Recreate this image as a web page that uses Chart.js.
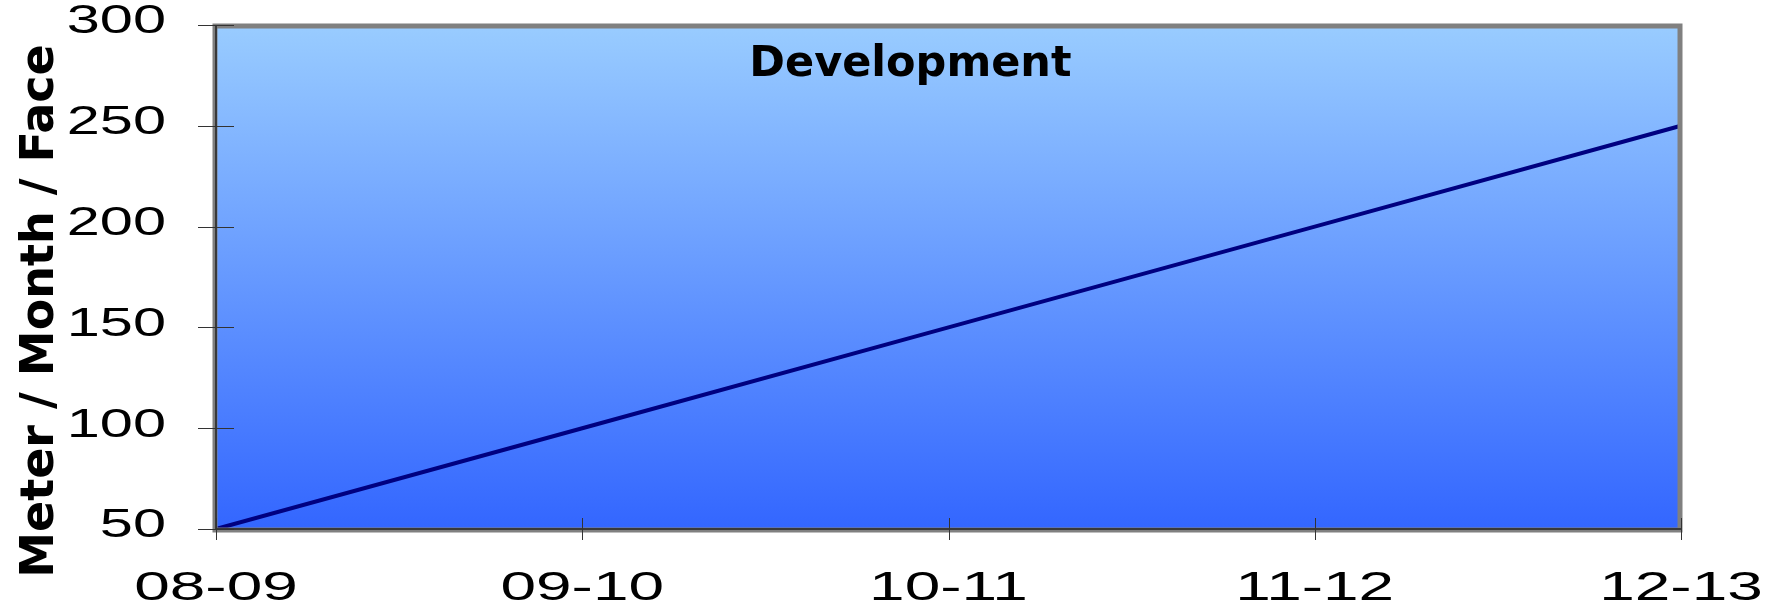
<!DOCTYPE html>
<html>
<head>
<meta charset="utf-8">
<script src="https://cdn.jsdelivr.net/npm/chart.js@4.4.0/dist/chart.umd.min.js"></script>
<style>
  html, body { margin: 0; padding: 0; background: #fff; }
  #wrap { width: 1782px; height: 608px; }
</style>
</head>
<body>
<div id="wrap"><canvas id="myChart"></canvas></div>
<script>
// data
const SEASONS = ['08-09', '09-10', '10-11', '11-12', '12-13'];
const DEVELOPMENT = [50, 100, 150, 200, 250];
const Y_MIN = 50;
const Y_MAX = 300;
const Y_STEP = 50;
const TITLE = 'Development';
const Y_TITLE = 'Meter / Month / Face';

const ctx = document.getElementById('myChart').getContext('2d');

// background, frame, crossing ticks, stretched labels and titles
const decor = {
    id: 'decor',
    beforeDatasetsDraw(chart) {
        const { ctx, chartArea: a } = chart;
        const g = ctx.createLinearGradient(0, a.top, 0, a.bottom);
        g.addColorStop(0, '#99ccff');
        g.addColorStop(1, '#3366ff');
        ctx.save();
        ctx.fillStyle = g;
        ctx.fillRect(a.left, a.top, a.right - a.left, a.bottom - a.top);
        ctx.restore();
    },
    afterDatasetsDraw(chart) {
        const { ctx, chartArea: a, scales } = chart;
        const x = scales.x, y = scales.y;
        ctx.save();
        // grey frame
        ctx.strokeStyle = '#808080';
        ctx.lineWidth = 5;
        ctx.strokeRect(a.left - 1, a.top + 1, a.right - a.left, a.bottom - a.top);
        // dark axis lines
        ctx.strokeStyle = '#222';
        ctx.lineWidth = 1.5;
        ctx.beginPath();
        ctx.moveTo(a.left, a.top);
        ctx.lineTo(a.left, a.bottom);
        ctx.lineTo(a.right, a.bottom);
        ctx.stroke();

        // ticks crossing the axes
        ctx.strokeStyle = '#333';
        ctx.lineWidth = 1;
        ctx.beginPath();
        y.ticks.forEach(t => {
            const py = Math.round(y.getPixelForValue(t.value)) + 0.5;
            ctx.moveTo(a.left - 18, py);
            ctx.lineTo(a.left + 18, py);
        });
        SEASONS.forEach((s, i) => {
            const px = Math.round(x.getPixelForTick(i)) + 0.5;
            ctx.moveTo(px, a.bottom - 11);
            ctx.lineTo(px, a.bottom + 11);
        });
        ctx.stroke();

        // tick labels, drawn wide like the original
        ctx.fillStyle = '#000';
        ctx.font = '41px "Liberation Sans", Arial, sans-serif';
        ctx.textBaseline = 'middle';
        ctx.textAlign = 'right';
        const sy = 1.45;
        y.ticks.forEach(t => {
            const py = y.getPixelForValue(t.value) - 3;
            ctx.save();
            ctx.translate(a.left - 50, py);
            ctx.scale(sy, 1);
            ctx.fillText(String(t.value), 0, 0);
            ctx.restore();
        });
        ctx.textAlign = 'center';
        ctx.textBaseline = 'alphabetic';
        ctx.font = '41px "Liberation Sans", Arial, sans-serif';
        const sx = 1.56;
        SEASONS.forEach((s, i) => {
            const px = x.getPixelForTick(i);
            ctx.save();
            ctx.translate(px, a.bottom + 71);
            ctx.scale(sx, 1);
            ctx.fillText(s, 0, 0);
            ctx.restore();
        });

        // chart title inside the plot
        ctx.font = 'bold 43px "DejaVu Sans", Verdana, sans-serif';
        ctx.textAlign = 'center';
        ctx.fillText(TITLE, a.left + (a.right - a.left) * 0.474, a.top + 51);

        // y axis title
        ctx.save();
        ctx.translate(53, (a.top + a.bottom) / 2 + 34);
        ctx.rotate(-Math.PI / 2);
        ctx.font = 'bold 46px "DejaVu Sans", Verdana, sans-serif';
        ctx.fillText(Y_TITLE, 0, 0);
        ctx.restore();
        ctx.restore();
    }
};

let chart = new Chart(ctx, {
    type: 'line',
    data: {
        labels: SEASONS,
        datasets: [{
            label: TITLE,
            data: DEVELOPMENT,
            borderColor: '#000080',
            borderWidth: 4,
            pointRadius: 0,
            tension: 0,
            fill: false
        }]
    },
    options: {
        responsive: true,
        maintainAspectRatio: false,
        animation: false,
        events: [],
        layout: { padding: { left: 0, top: 25, right: 101, bottom: 0 } },
        plugins: {
            legend: { display: false },
            title: { display: false },
            tooltip: { enabled: false }
        },
        scales: {
            x: {
                type: 'category',
                offset: false,
                grid: { display: false },
                border: { display: false },
                ticks: { display: false },
                afterFit(s) { s.height = 79; }
            },
            y: {
                min: Y_MIN,
                max: Y_MAX,
                grid: { display: false },
                border: { display: false },
                ticks: { display: false, stepSize: Y_STEP },
                afterFit(s) { s.width = 216; }
            }
        }
    },
    plugins: [decor]
});
</script>
</body>
</html>
